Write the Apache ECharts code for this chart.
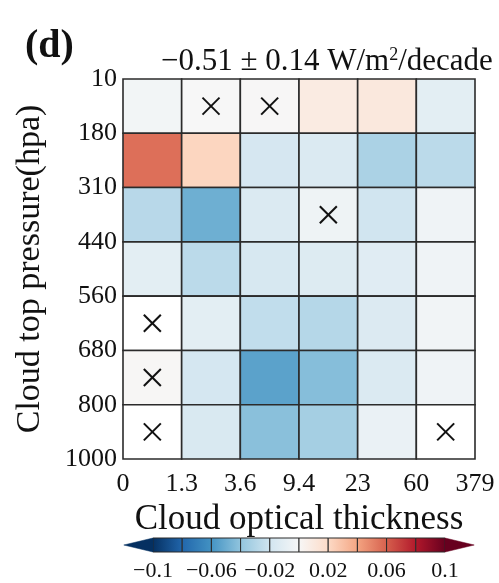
<!DOCTYPE html>
<html>
<head>
<meta charset="utf-8">
<script src="https://cdn.jsdelivr.net/npm/echarts@6/dist/echarts.min.js"></script>
<style>html,body{margin:0;padding:0;background:#fff;}#c{width:499px;height:583px;}</style>
</head>
<body>
<div id="c"></div>
<script>
// ---- data ----
const xLabels = ['0', '1.3', '3.6', '9.4', '23', '60', '379'];      // cloud optical thickness bin edges
const yLabels = ['10', '180', '310', '440', '560', '680', '800', '1000']; // cloud top pressure bin edges (hPa)
// trend values per pressure band (W/m2/decade), columns = optical thickness bins
const band10_180    = [-0.0026, 0.0,    0.0005, 0.0086, 0.011, -0.0105];
const band180_310   = [0.0556,  0.022, -0.0174, -0.015, -0.032, -0.027];
const band310_440   = [-0.028, -0.049, -0.015, -0.005, -0.020, -0.004];
const band440_560   = [-0.0105, -0.027, -0.017, -0.0137, -0.012, -0.004];
const band560_680   = [null,   -0.0105, -0.025, -0.029, -0.014, -0.003];
const band680_800   = [0.001,  -0.018, -0.054, -0.043, -0.015, -0.004];
const band800_1000  = [null,   -0.016, -0.042, -0.034, -0.007, null];
const bands = [band10_180, band180_310, band310_440, band440_560, band560_680, band680_800, band800_1000];
// insignificant cells [column, row]
const crossed = [[1, 0], [2, 0], [3, 2], [0, 4], [0, 5], [0, 6], [5, 6]];
// colour bar
const cbMin = -0.1, cbMax = 0.1, cbStep = 0.02;
const rdbuR = ['#053061', '#2166ac', '#4393c3', '#92c5de', '#d1e5f0', '#f7f7f7', '#fddbc7', '#f4a582', '#d6604d', '#b2182b', '#67001f'];

const FONT = 'Liberation Serif';
function colorFor(v) {
  let t = (v - cbMin) / (cbMax - cbMin);
  t = Math.max(0, Math.min(1, t));
  return echarts.color.lerp(t, rdbuR);
}
const cellData = [];
bands.forEach((row, r) => row.forEach((v, c) => cellData.push([c, r, v])));
const cbSegs = [];
for (let k = 0; k < Math.round((cbMax - cbMin) / cbStep); k++) cbSegs.push([+(cbMin + k * cbStep).toFixed(4), 0]);
const fmtNum = v => { const s = String(+(+v).toFixed(3)); return s.replace('-', '\u2212'); };

const chart = echarts.init(document.getElementById('c'), null, {renderer: 'canvas'});
chart.setOption({
  animation: false,
  backgroundColor: '#fff',
  title: [
    {text: '(d)', left: 20, top: 22, textStyle: {fontFamily: FONT, fontWeight: 'bold', fontSize: 40, color: '#111'}},
    {text: '{a|\u22120.51 \u00b1 0.14 W/m}{s|2}{a|/decade}', left: 156, top: 41,
     textStyle: {fontWeight: 'normal', rich: {
       a: {fontFamily: FONT, fontSize: 31, fontWeight: 'normal', color: '#111'},
       s: {fontFamily: FONT, fontSize: 18, fontWeight: 'normal', color: '#111', verticalAlign: 'top', padding: [0, 0, 13, 0]}}}}
  ],
  grid: [
    {left: 123, right: 24, top: 79, bottom: 124},
    {left: 153, right: 54, top: 538, height: 14}
  ],
  xAxis: [
    {gridIndex: 0, type: 'value', min: 0, max: 6, interval: 1,
     name: 'Cloud optical thickness', nameLocation: 'middle', nameGap: 42,
     nameTextStyle: {fontFamily: FONT, fontSize: 35, color: '#111'},
     axisLine: {show: false}, axisTick: {show: false}, splitLine: {show: false},
     axisLabel: {fontFamily: FONT, fontSize: 26, color: '#111', margin: 12, formatter: v => xLabels[v]}},
    {gridIndex: 1, type: 'value', min: cbMin, max: cbMax, interval: cbStep,
     axisLine: {show: false}, axisTick: {show: false}, splitLine: {show: false},
     axisLabel: {fontFamily: FONT, fontSize: 22, color: '#111', margin: 8,
       formatter: (v, i) => (i % 2 === 0 ? fmtNum(v) : '')}}
  ],
  yAxis: [
    {gridIndex: 0, type: 'value', min: 0, max: 7, interval: 1, inverse: true,
     name: 'Cloud top pressure(hpa)', nameLocation: 'middle', nameGap: 76,
     nameTextStyle: {fontFamily: FONT, fontSize: 34, color: '#111'},
     axisLine: {show: false}, axisTick: {show: false}, splitLine: {show: false},
     axisLabel: {fontFamily: FONT, fontSize: 26, color: '#111', margin: 6, formatter: v => yLabels[v]}},
    {gridIndex: 1, type: 'value', min: 0, max: 1, show: false}
  ],
  series: [
    {
      type: 'custom', xAxisIndex: 0, yAxisIndex: 0, data: cellData,
      encode: {x: 0, y: 1},
      renderItem: (params, api) => {
        const c = api.value(0), r = api.value(1), v = api.value(2);
        const p0 = api.coord([c, r]), p1 = api.coord([c + 1, r + 1]);
        const isNull = (v === null || v === undefined || v === '-' || isNaN(v));
        return {type: 'rect',
          shape: {x: Math.min(p0[0], p1[0]), y: Math.min(p0[1], p1[1]), width: Math.abs(p1[0] - p0[0]), height: Math.abs(p1[1] - p0[1])},
          style: {fill: isNull ? '#ffffff' : colorFor(v), stroke: '#2b2b2b', lineWidth: 1.6}};
      }
    },
    {
      type: 'custom', xAxisIndex: 0, yAxisIndex: 0, data: crossed, z: 5,
      encode: {x: 0, y: 1},
      renderItem: (params, api) => {
        const c = api.value(0), r = api.value(1);
        const p = api.coord([c + 0.5, r + 0.5]);
        const h = 8.5;
        return {type: 'group', children: [
          {type: 'line', shape: {x1: p[0] - h, y1: p[1] - h, x2: p[0] + h, y2: p[1] + h}, style: {stroke: '#111', lineWidth: 2}},
          {type: 'line', shape: {x1: p[0] - h, y1: p[1] + h, x2: p[0] + h, y2: p[1] - h}, style: {stroke: '#111', lineWidth: 2}}
        ]};
      }
    },
    {
      type: 'custom', xAxisIndex: 1, yAxisIndex: 1, data: cbSegs,
      encode: {x: 0},
      renderItem: (params, api) => {
        const a = api.value(0);
        const b = +(a + cbStep).toFixed(4);
        const p0 = api.coord([a, 1]), p1 = api.coord([b, 0]);
        const children = [{type: 'rect',
          shape: {x: p0[0], y: p0[1], width: p1[0] - p0[0], height: p1[1] - p0[1]},
          style: {fill: new echarts.graphic.LinearGradient(0, 0, 1, 0, [{offset: 0, color: colorFor(a)}, {offset: 1, color: colorFor(b)}]),
                  stroke: '#2a2a2a', lineWidth: 1}}];
        if (params.dataIndex === 0) {
          const t = api.coord([a - cbStep, 0.5]);
          children.push({type: 'polygon', shape: {points: [[p0[0], p0[1]], [p0[0], p1[1]], t]},
            style: {fill: rdbuR[0], stroke: rdbuR[0], lineWidth: 0.5}});
        }
        if (params.dataIndex === cbSegs.length - 1) {
          const t = api.coord([b + cbStep, 0.5]);
          children.push({type: 'polygon', shape: {points: [[p1[0], p0[1]], [p1[0], p1[1]], t]},
            style: {fill: rdbuR[rdbuR.length - 1], stroke: rdbuR[rdbuR.length - 1], lineWidth: 0.5}});
        }
        return {type: 'group', children};
      }
    }
  ]
});
</script>
</body>
</html>
